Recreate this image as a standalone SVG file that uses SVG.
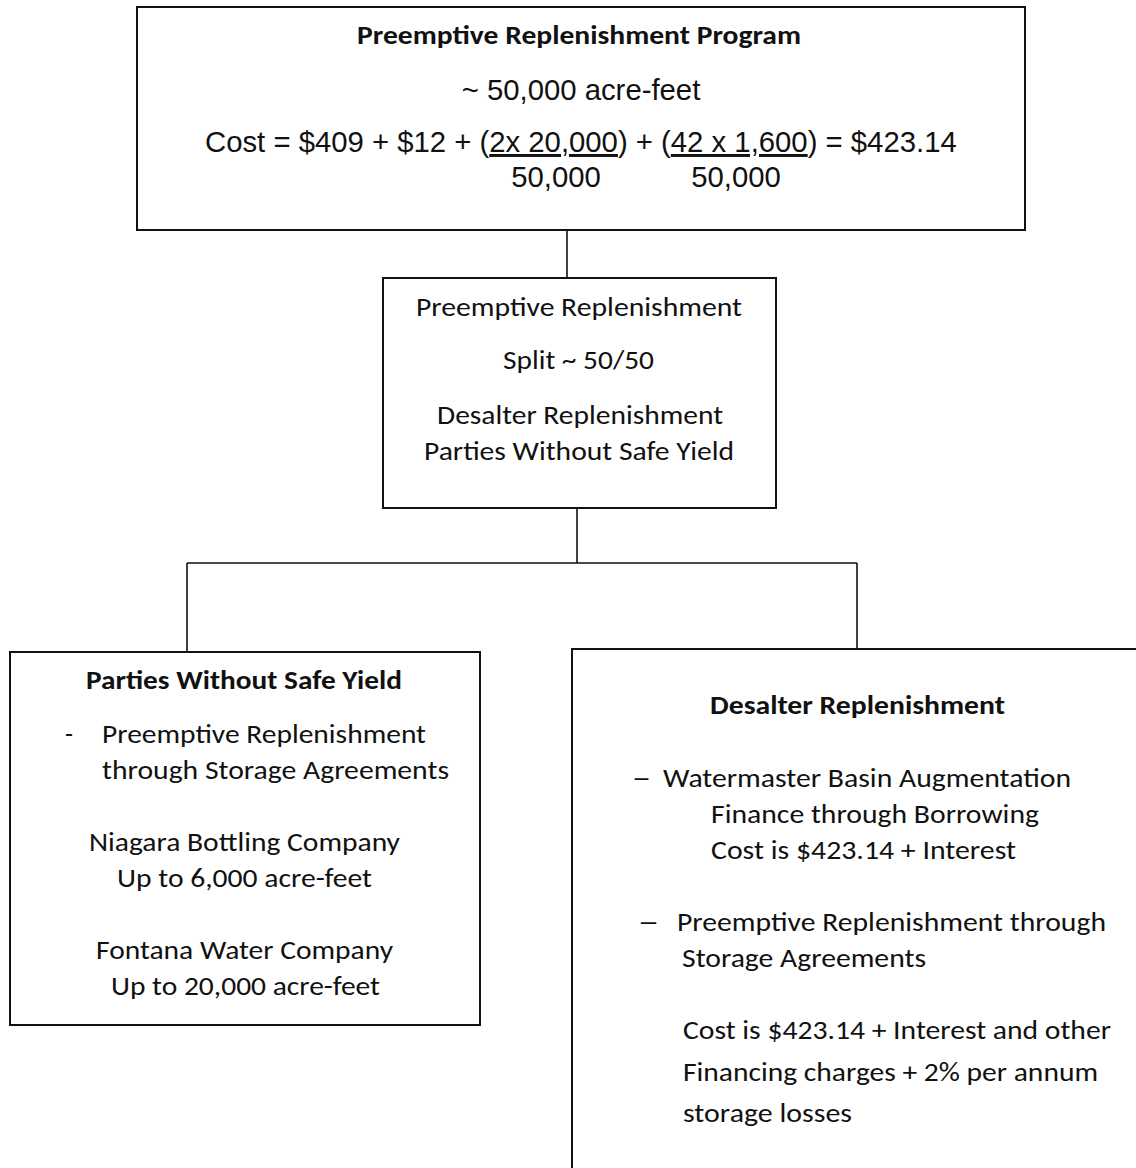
<svg xmlns="http://www.w3.org/2000/svg" width="1136" height="1168" viewBox="0 0 1136 1168">
<style>
.box{fill:#fff;stroke:#111;stroke-width:2}
.open{fill:none;stroke:#111;stroke-width:2}
.con{stroke:#111;stroke-width:1.6;fill:none}
.ar{font-family:"Liberation Sans",Arial,sans-serif;font-size:29.3px;fill:#111}
.cb{font-family:Carlito,Calibri,Lato,"Open Sans",sans-serif;font-size:26px;fill:#111}
.b{font-weight:bold}
</style>
<rect width="1136" height="1168" fill="#fff"/>
<g id="connectors">
<line class="con" x1="567" y1="230" x2="567" y2="278"/>
<line class="con" x1="577" y1="508" x2="577" y2="563"/>
<line class="con" x1="187" y1="563" x2="857" y2="563"/>
<line class="con" x1="187" y1="563" x2="187" y2="652"/>
<line class="con" x1="857" y1="563" x2="857" y2="649"/>
</g>
<g id="program">
<rect class="box" x="137" y="7" width="888" height="223"/>
<text class="cb b" x="357" y="44" textLength="444" lengthAdjust="spacingAndGlyphs">Preemptive Replenishment Program</text>
<text class="ar" x="581" y="100" text-anchor="middle">~ 50,000 acre-feet</text>
<text class="ar" x="205" y="152">Cost = $409 + $12 + (<tspan text-decoration="underline">2x 20,000</tspan>) + (<tspan text-decoration="underline">42 x 1,600</tspan>) = $423.14</text>
<text class="ar" x="556" y="187" text-anchor="middle">50,000</text>
<text class="ar" x="736" y="187" text-anchor="middle">50,000</text>
</g>
<g id="split">
<rect class="box" x="383" y="278" width="393" height="230"/>
<text class="cb" x="416" y="316" textLength="326" lengthAdjust="spacingAndGlyphs">Preemptive Replenishment</text>
<text class="cb" x="503" y="369" textLength="151" lengthAdjust="spacingAndGlyphs">Split ~ 50/50</text>
<text class="cb" x="437" y="424" textLength="286" lengthAdjust="spacingAndGlyphs">Desalter Replenishment</text>
<text class="cb" x="424" y="460" textLength="310" lengthAdjust="spacingAndGlyphs">Parties Without Safe Yield</text>
</g>
<g id="parties">
<rect class="box" x="10" y="652" width="470" height="373"/>
<text class="cb b" x="86" y="689" textLength="316" lengthAdjust="spacingAndGlyphs">Parties Without Safe Yield</text>
<text class="cb" x="65" y="743">-</text>
<text class="cb" x="102" y="743" textLength="324" lengthAdjust="spacingAndGlyphs">Preemptive Replenishment</text>
<text class="cb" x="102" y="779" textLength="347" lengthAdjust="spacingAndGlyphs">through Storage Agreements</text>
<text class="cb" x="89" y="851" textLength="311" lengthAdjust="spacingAndGlyphs">Niagara Bottling Company</text>
<text class="cb" x="117" y="887" textLength="255" lengthAdjust="spacingAndGlyphs">Up to 6,000 acre-feet</text>
<text class="cb" x="96" y="959" textLength="297" lengthAdjust="spacingAndGlyphs">Fontana Water Company</text>
<text class="cb" x="111" y="995" textLength="269" lengthAdjust="spacingAndGlyphs">Up to 20,000 acre-feet</text>
</g>
<g id="desalter">
<path class="open" d="M1136 649 H572 V1168"/>
<text class="cb b" x="710" y="714" textLength="295" lengthAdjust="spacingAndGlyphs">Desalter Replenishment</text>
<text class="cb" x="633" y="787" textLength="17" lengthAdjust="spacingAndGlyphs">—</text>
<text class="cb" x="663" y="787" textLength="408" lengthAdjust="spacingAndGlyphs">Watermaster Basin Augmentation</text>
<text class="cb" x="711" y="823" textLength="328" lengthAdjust="spacingAndGlyphs">Finance through Borrowing</text>
<text class="cb" x="711" y="859" textLength="305" lengthAdjust="spacingAndGlyphs">Cost is $423.14 + Interest</text>
<text class="cb" x="639" y="931" textLength="19" lengthAdjust="spacingAndGlyphs">—</text>
<text class="cb" x="677" y="931" textLength="429" lengthAdjust="spacingAndGlyphs">Preemptive Replenishment through</text>
<text class="cb" x="682" y="967" textLength="244" lengthAdjust="spacingAndGlyphs">Storage Agreements</text>
<text class="cb" x="683" y="1039" textLength="428" lengthAdjust="spacingAndGlyphs">Cost is $423.14 + Interest and other</text>
<text class="cb" x="683" y="1081" textLength="415" lengthAdjust="spacingAndGlyphs">Financing charges + 2% per annum</text>
<text class="cb" x="683" y="1122" textLength="169" lengthAdjust="spacingAndGlyphs">storage losses</text>
</g>
</svg>
